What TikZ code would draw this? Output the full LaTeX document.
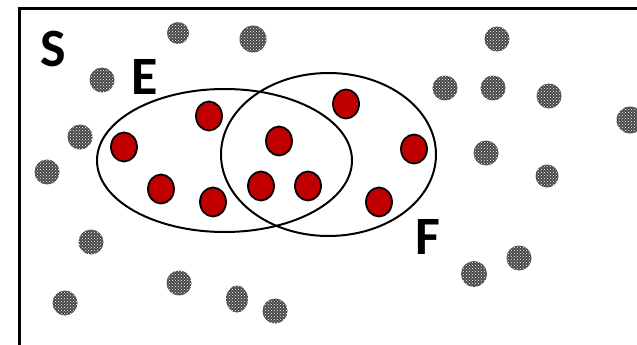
\documentclass[tikz,border=0pt]{standalone}
\usepackage{fontspec}
\setmainfont{Carlito}
\usetikzlibrary{shapes.geometric,patterns}
\begin{document}
\begin{tikzpicture}[x=1pt,y=-1pt,
  gdot/.style={circle,inner sep=0pt,minimum size=25pt,fill=black!72,
     postaction={pattern=crosshatch dots,pattern color=white}},
  rdot/.style={ellipse,inner sep=0pt,minimum width=26pt,minimum height=29pt,
     fill=redfill,draw=black,line width=1.8pt},
  setell/.style={ellipse,draw=black,line width=2pt,inner sep=0pt},
  lbl/.style={font=\fontsize{54}{54}\selectfont\bfseries,inner sep=0pt}]
\definecolor{redfill}{HTML}{C00000}
\useasboundingbox (0,0) rectangle (637,345);
\fill[white] (0,0) rectangle (637,345);
\draw[line width=3pt] (19,9) rectangle (700,420);
% set ellipses
\node[setell,minimum width=255pt,minimum height=143pt] (E) at (224.5,160.5) {};
\node[setell,minimum width=215pt,minimum height=163pt] (F) at (328.5,154.5) {};
% labels
\node[lbl] (lS) at (53,49) {S};
\node[lbl] (lE) at (145,77) {E};
\node[lbl] (lF) at (428,237) {F};
% gray dots
\node[gdot,minimum size=22pt] (g1) at (178,33) {};
\node[gdot,minimum size=27pt] (g2) at (253,39) {};
\node[gdot] (g3) at (102,80) {};
\node[gdot] (g4) at (80,137) {};
\node[gdot] (g5) at (47,172) {};
\node[gdot] (g6) at (497,39) {};
\node[gdot] (g7) at (445,88) {};
\node[gdot] (g8) at (493,88) {};
\node[gdot] (g9) at (549,96) {};
\node[gdot,minimum size=27pt] (g10) at (630,120) {};
\node[gdot] (g11) at (486,153) {};
\node[gdot,minimum size=23pt] (g12) at (547,176) {};
\node[gdot] (g13) at (91,242) {};
\node[gdot] (g14) at (65,303) {};
\node[gdot] (g15) at (179,283) {};
\node[gdot,ellipse,minimum width=22pt,minimum height=27pt] (g16) at (237,299) {};
\node[gdot] (g17) at (275,311) {};
\node[gdot] (g18) at (519,258) {};
\node[gdot,minimum size=26pt] (g19) at (474,274) {};
% red dots
\node[rdot] (r1) at (209,116) {};
\node[rdot] (r2) at (124,147) {};
\node[rdot] (r3) at (279,141) {};
\node[rdot] (r4) at (161,189) {};
\node[rdot] (r5) at (213,202) {};
\node[rdot] (r6) at (261,186) {};
\node[rdot] (r7) at (308,186) {};
\node[rdot] (r8) at (346,104) {};
\node[rdot] (r9) at (414,149) {};
\node[rdot] (r10) at (379,202) {};
\end{tikzpicture}
\end{document}
